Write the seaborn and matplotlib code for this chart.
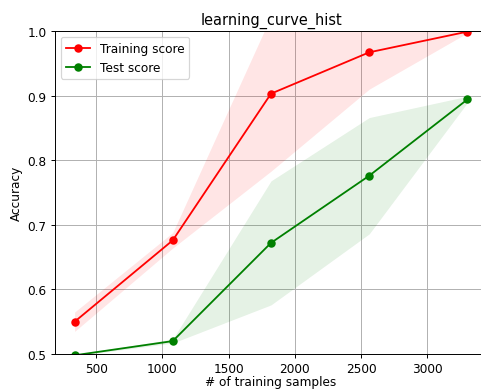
import pandas as pd
import seaborn as sns
import matplotlib
matplotlib.use("Agg")
import matplotlib.pyplot as plt

# Tamanhos de treino e scores médios / desvios
train_sizes = [337, 1078, 1820, 2562, 3303]
train_mean = [0.550, 0.676, 0.903, 0.967, 0.999]
train_std = [0.015, 0.012, 0.120, 0.057, 0.002]
test_mean = [0.498, 0.520, 0.672, 0.776, 0.894]
test_std = [0.001, 0.003, 0.096, 0.090, 0.005]

df = pd.DataFrame({
    "size": train_sizes * 2,
    "score": train_mean + test_mean,
    "serie": ["Training score"] * 5 + ["Test score"] * 5,
})

# dpi 87 -> mesma escala do original (figura padrão reduzida)
DPI = 87
fig = plt.figure(figsize=(481 / DPI, 390 / DPI), dpi=DPI)
ax = fig.add_axes([55 / 481, 35 / 390, 432 / 481, 323 / 390])

lo_tr = [m - s for m, s in zip(train_mean, train_std)]
hi_tr = [m + s for m, s in zip(train_mean, train_std)]
lo_te = [m - s for m, s in zip(test_mean, test_std)]
hi_te = [m + s for m, s in zip(test_mean, test_std)]
ax.fill_between(train_sizes, lo_tr, hi_tr, alpha=0.1, color="r", linewidth=0)
ax.fill_between(train_sizes, lo_te, hi_te, alpha=0.1, color="g", linewidth=0)

sns.lineplot(data=df, x="size", y="score", hue="serie",
             palette={"Training score": "r", "Test score": "g"},
             marker="o", markersize=7, markeredgewidth=0, linewidth=1.5,
             ax=ax)

ax.set_ylim(0.5, 1.0)
ax.set_yticks([0.5, 0.6, 0.7, 0.8, 0.9, 1.0])
ax.grid(True, color="#b0b0b0", linewidth=0.8)
ax.set_axisbelow(True)
ax.set_title("learning_curve_hist", fontsize=12)
ax.set_xlabel("# of training samples", labelpad=0)
ax.set_ylabel("Accuracy")
ax.legend(loc="upper left", title=None)

fig.savefig("out.png", dpi=DPI)
